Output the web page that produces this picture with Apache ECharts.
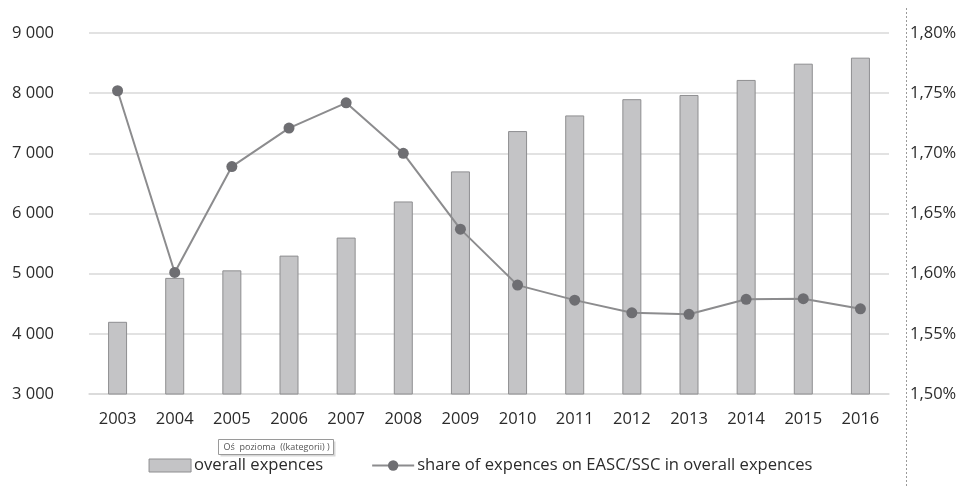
<!DOCTYPE html>
<html>
<head>
<meta charset="utf-8">
<script src="https://cdn.jsdelivr.net/npm/echarts@6/dist/echarts.min.js"></script>
<style>
  html, body { margin: 0; padding: 0; background: #fff; }
  #chart { width: 961px; height: 486px; }
</style>
</head>
<body>
<div id="chart"></div>
<script>
// Years on the category axis
const years = ['2003','2004','2005','2006','2007','2008','2009','2010','2011','2012','2013','2014','2015','2016'];
// Overall expences (left axis)
const overallExpences = [4200, 4930, 5055, 5300, 5600, 6200, 6700, 7370, 7630, 7900, 7970, 8220, 8490, 8590];
// Share of expences on EASC/SSC in overall expences, in percent (right axis)
const shareEASC = [1.752, 1.601, 1.689, 1.721, 1.742, 1.700, 1.637, 1.5905, 1.578, 1.5675, 1.5662, 1.5787, 1.5792, 1.5708];

const seriesNames = ['overall expences', 'share of expences on EASC/SSC in overall expences'];

const FONT = '"Open Sans", "Liberation Sans", sans-serif';
const TEXT = '#2b2b2b';

const chart = echarts.init(document.getElementById('chart'), null, { renderer: 'canvas' });

chart.setOption({
  animation: false,
  backgroundColor: '#ffffff',
  textStyle: { fontFamily: FONT },
  grid: { left: 89, right: 72, top: 33, bottom: 92, containLabel: false },
  legend: {
    bottom: 7,
    left: 'center',
    itemGap: 48,
    textStyle: { fontFamily: FONT, fontSize: 16.6, color: TEXT, padding: [0, 0, 0, -2] },
    data: [
      { name: seriesNames[0], icon: 'rect', itemStyle: { color: '#c4c4c6', borderColor: '#8e8e90', borderWidth: 1 } },
      { name: seriesNames[1] }
    ],
    itemWidth: 42,
    itemHeight: 13
  },
  xAxis: {
    type: 'category',
    data: years,
    axisLine: { show: true, lineStyle: { color: '#d9d9d9', width: 1.5 } },
    axisTick: { show: false },
    axisLabel: { color: TEXT, fontSize: 16.5, fontFamily: FONT, margin: 17 }
  },
  yAxis: [
    {
      type: 'value',
      min: 3000, max: 9000, interval: 1000,
      axisLine: { show: false },
      axisTick: { show: false },
      splitLine: { lineStyle: { color: '#d9d9d9', width: 1.5 } },
      axisLabel: {
        color: TEXT, fontSize: 16.5, fontFamily: FONT, margin: 35,
        formatter: v => v.toString().replace(/\B(?=(\d{3})+(?!\d))/g, ' ')
      }
    },
    {
      type: 'value',
      min: 1.5, max: 1.8, interval: 0.05,
      position: 'right',
      axisLine: { show: false },
      axisTick: { show: false },
      splitLine: { show: false },
      axisLabel: {
        color: TEXT, fontSize: 16.5, fontFamily: FONT, margin: 21,
        formatter: v => v.toFixed(2).replace('.', ',') + '%'
      }
    }
  ],
  series: [
    {
      name: seriesNames[0],
      type: 'bar',
      data: overallExpences,
      barWidth: 19,
      itemStyle: { color: '#c4c4c6', borderColor: '#8e8e90', borderWidth: 1 }
    },
    {
      name: seriesNames[1],
      type: 'line',
      yAxisIndex: 1,
      data: shareEASC,
      symbol: 'circle',
      symbolSize: 11,
      lineStyle: { color: '#8c8c8e', width: 2 },
      itemStyle: { color: '#6e6e72' }
    }
  ],
  graphic: [
    // dashed frame edge on the right
    {
      type: 'line',
      shape: { x1: 906.5, y1: 8, x2: 906.5, y2: 486 },
      style: { stroke: '#9a9a9a', lineWidth: 1, lineDash: [2, 2] }
    },
    // axis name hint box under the category axis
    {
      type: 'group',
      left: 218, top: 439,
      children: [
        {
          type: 'rect',
          shape: { x: 2, y: 2, width: 115, height: 15 },
          style: { fill: '#d8d8d8' }
        },
        {
          type: 'rect',
          shape: { x: 0, y: 0, width: 115, height: 15 },
          style: { fill: '#ffffff', stroke: '#9a9a9a', lineWidth: 1 }
        },
        {
          type: 'text',
          x: 5, y: 3,
          style: { text: 'Oś  pozioma  ((kategorii) )', fontSize: 9, fontFamily: FONT, fill: '#555' }
        }
      ]
    }
  ]
});
</script>
</body>
</html>
